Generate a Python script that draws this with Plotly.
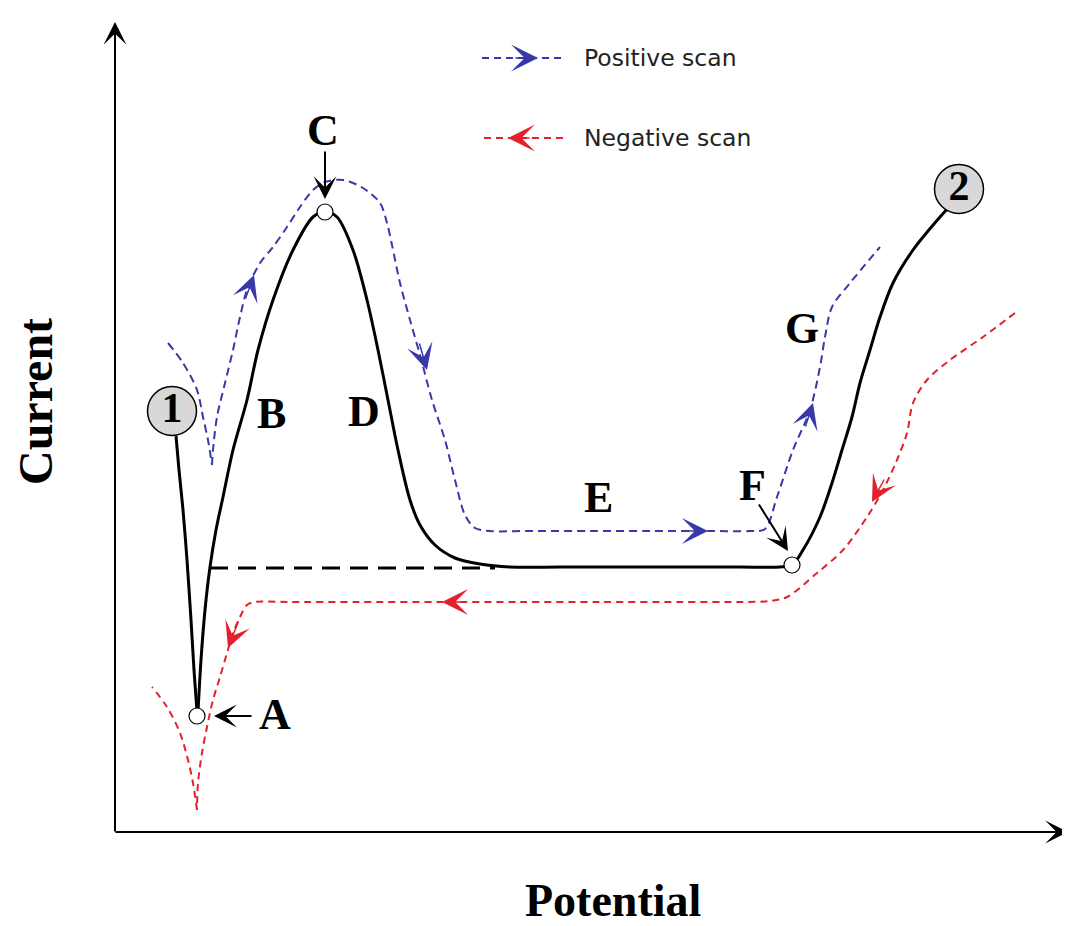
import plotly.graph_objects as go

# Canvas coordinates of the schematic (x = potential to the right, y = current drawn on a reversed axis)
W, H = 1070, 926
PAGE_MARGIN = 8  # the html body margin
BLUE = "#3838a8"
RED = "#e3202b"
BLACK = "#000000"

# ---- Main voltammogram (black solid) ----
cv_left_x = [176, 179, 183, 187, 191, 194, 197]
cv_left_y = [436, 470, 510, 560, 620, 670, 712]
cv_main_x = [198, 201, 205, 210, 216, 223, 233, 247, 258, 273, 293, 313, 325, 337, 353, 367, 378, 388,
             398, 410, 420, 435, 455, 480, 510, 560, 620, 680, 740, 780, 792, 803, 820, 832, 842, 852,
             860, 870, 880, 893, 913, 940, 952]
cv_main_y = [712, 660, 610, 567, 530, 497, 450, 400, 350, 300, 250, 217, 212, 217, 250, 300, 350, 400,
             450, 500, 525, 545, 558, 564, 567, 567, 567, 567, 567, 567, 565, 550, 517, 483, 450, 417,
             383, 350, 317, 283, 250, 217, 204]
baseline_x = [210, 495]
baseline_y = [568, 568]

# ---- Positive scan (blue dashed) ----
pos_a_x = [168, 183, 197, 203, 208, 212]
pos_a_y = [343, 363, 390, 417, 440, 465]
pos_b_x = [212, 213, 217, 225, 233, 240, 247, 260, 273, 287, 300, 313, 325, 343, 363, 380, 387, 392,
           400, 410, 420, 432, 445, 455, 465, 475, 490, 530, 590, 650, 710, 750, 765, 777, 793, 810,
           820, 825, 832, 850, 880]
pos_b_y = [465, 450, 417, 383, 350, 317, 290, 263, 247, 227, 207, 190, 182, 180, 188, 203, 223, 245,
           283, 320, 355, 400, 440, 480, 515, 528, 531, 531, 531, 531, 531, 531, 529, 497, 450, 410,
           367, 337, 307, 283, 247]
pos_arrow_tip_x = [254, 427, 708, 813]
pos_arrow_tip_y = [275, 370, 531, 403]
pos_arrow_tail_x = [245, 419, 685, 805]
pos_arrow_tail_y = [300, 342, 531, 428]

# ---- Negative scan (red dashed) ----
neg_a_x = [1015, 983, 950, 927, 913, 907, 897, 883, 867, 843, 817, 787, 770, 740, 680, 600, 520, 440,
           360, 290, 255, 247, 240, 233, 227, 220, 213, 207, 202, 198, 197]
neg_a_y = [313, 337, 360, 380, 403, 433, 460, 490, 517, 550, 573, 597, 601, 602, 602, 602, 602, 602,
           602, 602, 602, 605, 617, 633, 653, 677, 700, 727, 753, 783, 810]
neg_b_x = [197, 193, 188, 180, 167, 152]
neg_b_y = [810, 783, 760, 733, 707, 687]
neg_arrow_tip_x = [872, 442, 228]
neg_arrow_tip_y = [502, 602, 648]
neg_arrow_tail_x = [885, 467, 239]
neg_arrow_tail_y = [478, 602, 620]

# ---- Marked points ----
pt_x = [197, 325, 792]
pt_y = [716, 212, 565]
num_labels = ["1", "2"]
num_x = [172, 959]
num_y = [411, 189]

# ---- Region letters ----
letters = ["A", "B", "C", "D", "E", "F", "G"]
letter_x = [275, 271, 323, 364, 598, 752, 802]
letter_y = [714, 413, 130, 411, 497, 485, 328]

# pointer arrows (tip, tail)
ptr_tip_x = [214, 325, 788]
ptr_tip_y = [716, 199, 551]
ptr_tail_x = [253, 325, 758]
ptr_tail_y = [716, 150, 503]

# legend
legend_text = ["Positive scan", "Negative scan"]
legend_y = [58, 138]
legend_line_x = [[482, 562], [484, 563]]
legend_tip_x = [538, 508]
legend_tail_x = [514, 531]

# axes
axis_origin = (115, 832)
axis_top_y = 22
axis_right_x = 1068

fig = go.Figure()


def add_line(x, y, color, width, dash, shape="spline"):
    fig.add_trace(go.Scatter(x=x, y=y, mode="lines", hoverinfo="skip", showlegend=False,
                             line=dict(color=color, width=width, dash=dash, shape=shape, smoothing=0.9)))


def add_arrow(tx, ty, sx, sy, color, width, size, head=3):
    fig.add_annotation(x=tx, y=ty, ax=sx, ay=sy, xref="x", yref="y", axref="x", ayref="y",
                       text="", showarrow=True, arrowhead=head, arrowsize=size,
                       arrowwidth=width, arrowcolor=color, standoff=0)


# scan paths
add_line(pos_a_x, pos_a_y, BLUE, 2, "8px,5px")
add_line(pos_b_x, pos_b_y, BLUE, 2, "8px,5px")
add_line(neg_a_x, neg_a_y, RED, 2, "7px,5px")
add_line(neg_b_x, neg_b_y, RED, 2, "7px,5px")
for tx, ty, sx, sy in zip(pos_arrow_tip_x, pos_arrow_tip_y, pos_arrow_tail_x, pos_arrow_tail_y):
    add_arrow(tx, ty, sx, sy, BLUE, 1.5, 2.9)
for tx, ty, sx, sy in zip(neg_arrow_tip_x, neg_arrow_tip_y, neg_arrow_tail_x, neg_arrow_tail_y):
    add_arrow(tx, ty, sx, sy, RED, 1.5, 2.9)

# main curve
add_line(baseline_x, baseline_y, BLACK, 3, "18px,10px", shape="linear")
add_line(cv_left_x, cv_left_y, BLACK, 3, "solid")
add_line(cv_main_x, cv_main_y, BLACK, 3, "solid")

# open circles at A, C, F
fig.add_trace(go.Scatter(x=pt_x, y=pt_y, mode="markers", hoverinfo="skip", showlegend=False,
                         marker=dict(size=16, color="white", line=dict(color=BLACK, width=1.2))))
# numbered circles
fig.add_trace(go.Scatter(x=num_x, y=num_y, mode="markers+text", text=num_labels,
                         textposition="middle center", hoverinfo="skip", showlegend=False,
                         textfont=dict(family="Liberation Serif", size=42, color=BLACK, weight=700),
                         marker=dict(size=49, color="#d8d8d8", line=dict(color=BLACK, width=1.5))))

# pointer arrows
for tx, ty, sx, sy in zip(ptr_tip_x, ptr_tip_y, ptr_tail_x, ptr_tail_y):
    add_arrow(tx, ty, sx, sy, BLACK, 2, 1.9)

# letters
for t, x, y in zip(letters, letter_x, letter_y):
    fig.add_annotation(x=x, y=y, xref="x", yref="y", text=t, showarrow=False,
                       font=dict(family="Liberation Serif", size=44, color=BLACK, weight=700))

# legend
for i, (txt, ly) in enumerate(zip(legend_text, legend_y)):
    col = BLUE if i == 0 else RED
    add_line(legend_line_x[i], [ly, ly], col, 2, "7px,5px", shape="linear")
    add_arrow(legend_tip_x[i], ly, legend_tail_x[i], ly, col, 1.5, 3.0)
    fig.add_annotation(x=582, y=ly, xref="x", yref="y", text=txt, showarrow=False,
                       xanchor="left", yanchor="middle",
                       font=dict(family="DejaVu Sans", size=23.5, color="#222222"))

# axes with arrowheads
add_arrow(axis_origin[0], axis_top_y, axis_origin[0], axis_origin[1] + 1, BLACK, 2, 1.9)
add_arrow(axis_right_x, axis_origin[1], axis_origin[0] - 1, axis_origin[1], BLACK, 2, 1.9)

# axis titles
fig.add_annotation(x=35, y=402, xref="x", yref="y", text="Current", showarrow=False, textangle=-90,
                   font=dict(family="Liberation Serif", size=48, color=BLACK, weight=700))
fig.add_annotation(x=613, y=900, xref="x", yref="y", text="Potential", showarrow=False,
                   font=dict(family="Liberation Serif", size=46, color=BLACK, weight=700))

# the page body adds an 8 px margin; shift the visible window so canvas pixels line up
fig.update_xaxes(range=[PAGE_MARGIN, W], visible=False, fixedrange=True)
fig.update_yaxes(range=[H, PAGE_MARGIN], visible=False, fixedrange=True)
fig.update_layout(width=W - PAGE_MARGIN, height=H - PAGE_MARGIN, margin=dict(l=0, r=0, t=0, b=0),
                  autosize=False, plot_bgcolor="white", paper_bgcolor="white", showlegend=False)

fig.write_html("out.html")
